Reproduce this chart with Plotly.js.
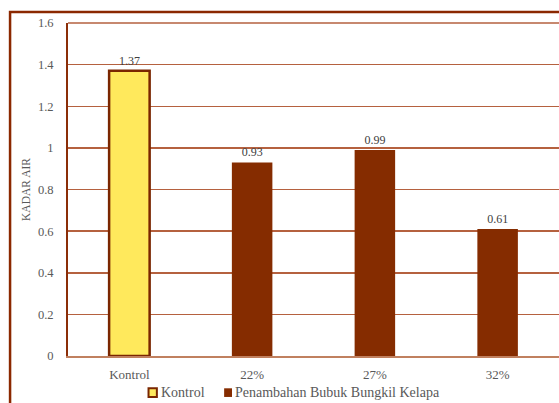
<!DOCTYPE html>
<html>
<head>
<meta charset="utf-8">
<script src="https://cdn.plot.ly/plotly-3.0.1.min.js"></script>
<style>html,body{margin:0;padding:0;background:#fff;}#chart{width:559px;height:403px;}</style>
</head>
<body>
<div id="chart"></div>
<script>
const categories = ['Kontrol', '22%', '27%', '32%'];
const kontrolCategories = ['Kontrol'];
const kontrolValues = [1.37];
const treatmentCategories = ['22%', '27%', '32%'];
const treatmentValues = [0.93, 0.99, 0.61];
const seriesNames = ['Kontrol', 'Penambahan Bubuk Bungkil Kelapa'];
const yTitle = 'KADAR AIR';

const serif = 'Times New Roman';
const brown = '#852C00';
const yellow = '#FFE95C';
const kontrolEdge = '#7A2600';

const traces = [
  {
    type: 'bar', name: seriesNames[0], x: kontrolCategories, y: kontrolValues,
    width: 0.33,
    marker: {color: yellow, line: {color: kontrolEdge, width: 2.5}},
    text: kontrolValues.map(v => v.toFixed(2)), textposition: 'outside',
    textfont: {family: serif, size: 12, color: '#404040'}, cliponaxis: false,
    showlegend: false
  },
  {
    type: 'bar', name: seriesNames[1], x: treatmentCategories, y: treatmentValues,
    width: 0.33,
    marker: {color: brown, line: {color: brown, width: 0}},
    text: treatmentValues.map(v => v.toFixed(2)), textposition: 'outside',
    textfont: {family: serif, size: 12, color: '#404040'}, cliponaxis: false,
    showlegend: false
  }
];

const legendY0 = -0.097, legendY1 = -0.123, legendYc = -0.11;
const layout = {
  width: 559, height: 403,
  margin: {l: 68, r: 0, t: 23, b: 47},
  paper_bgcolor: '#ffffff', plot_bgcolor: '#ffffff',
  barmode: 'overlay',
  showlegend: false,
  font: {family: serif, size: 12, color: '#595959'},
  xaxis: {
    type: 'category', categoryorder: 'array', categoryarray: categories,
    range: [-0.5, 3.5],
    showgrid: false, zeroline: false,
    showline: true, linecolor: '#C0805F', linewidth: 1.5,
    ticks: 'outside', ticklen: 6, tickcolor: 'rgba(0,0,0,0)',
    tickfont: {family: serif, size: 13, color: '#595959'}
  },
  yaxis: {
    range: [0, 1.6], dtick: 0.2, tick0: 0,
    showgrid: true, gridcolor: '#B5613F', gridwidth: 1.5,
    zeroline: false,
    showline: true, linecolor: '#8B2E08', linewidth: 2,
    ticks: 'outside', ticklen: 10, tickcolor: 'rgba(0,0,0,0)',
    tickfont: {family: serif, size: 12.5, color: '#595959'},
    title: {text: yTitle, font: {family: serif, size: 11.5, color: '#595959'}, standoff: 5}
  },
  annotations: [
    {xref: 'paper', yref: 'paper', x: 0.186, y: legendYc, xanchor: 'left', yanchor: 'middle',
     text: seriesNames[0], showarrow: false, font: {family: serif, size: 14, color: '#595959'}},
    {xref: 'paper', yref: 'paper', x: 0.337, y: legendYc, xanchor: 'left', yanchor: 'middle',
     text: seriesNames[1], showarrow: false, font: {family: serif, size: 14, color: '#595959'}}
  ],
  shapes: [
    {type: 'line', xref: 'paper', yref: 'paper', x0: 0, x1: 1.05, y0: 1, y1: 1,
     line: {color: '#B5613F', width: 1.5}},
    {type: 'rect', xref: 'paper', yref: 'paper', x0: -0.118, x1: 1.1, y0: -0.25, y1: 1.033,
     line: {color: '#8B2800', width: 2.5}, fillcolor: 'rgba(0,0,0,0)', layer: 'above'},
    {type: 'rect', xref: 'paper', yref: 'paper', x0: 0.164, x1: 0.181, y0: legendY0, y1: legendY1,
     line: {color: kontrolEdge, width: 2}, fillcolor: yellow},
    {type: 'rect', xref: 'paper', yref: 'paper', x0: 0.318, x1: 0.334, y0: legendY0, y1: legendY1,
     line: {color: brown, width: 0}, fillcolor: brown}
  ]
};

Plotly.newPlot('chart', traces, layout, {displayModeBar: false, staticPlot: true});
</script>
</body>
</html>
